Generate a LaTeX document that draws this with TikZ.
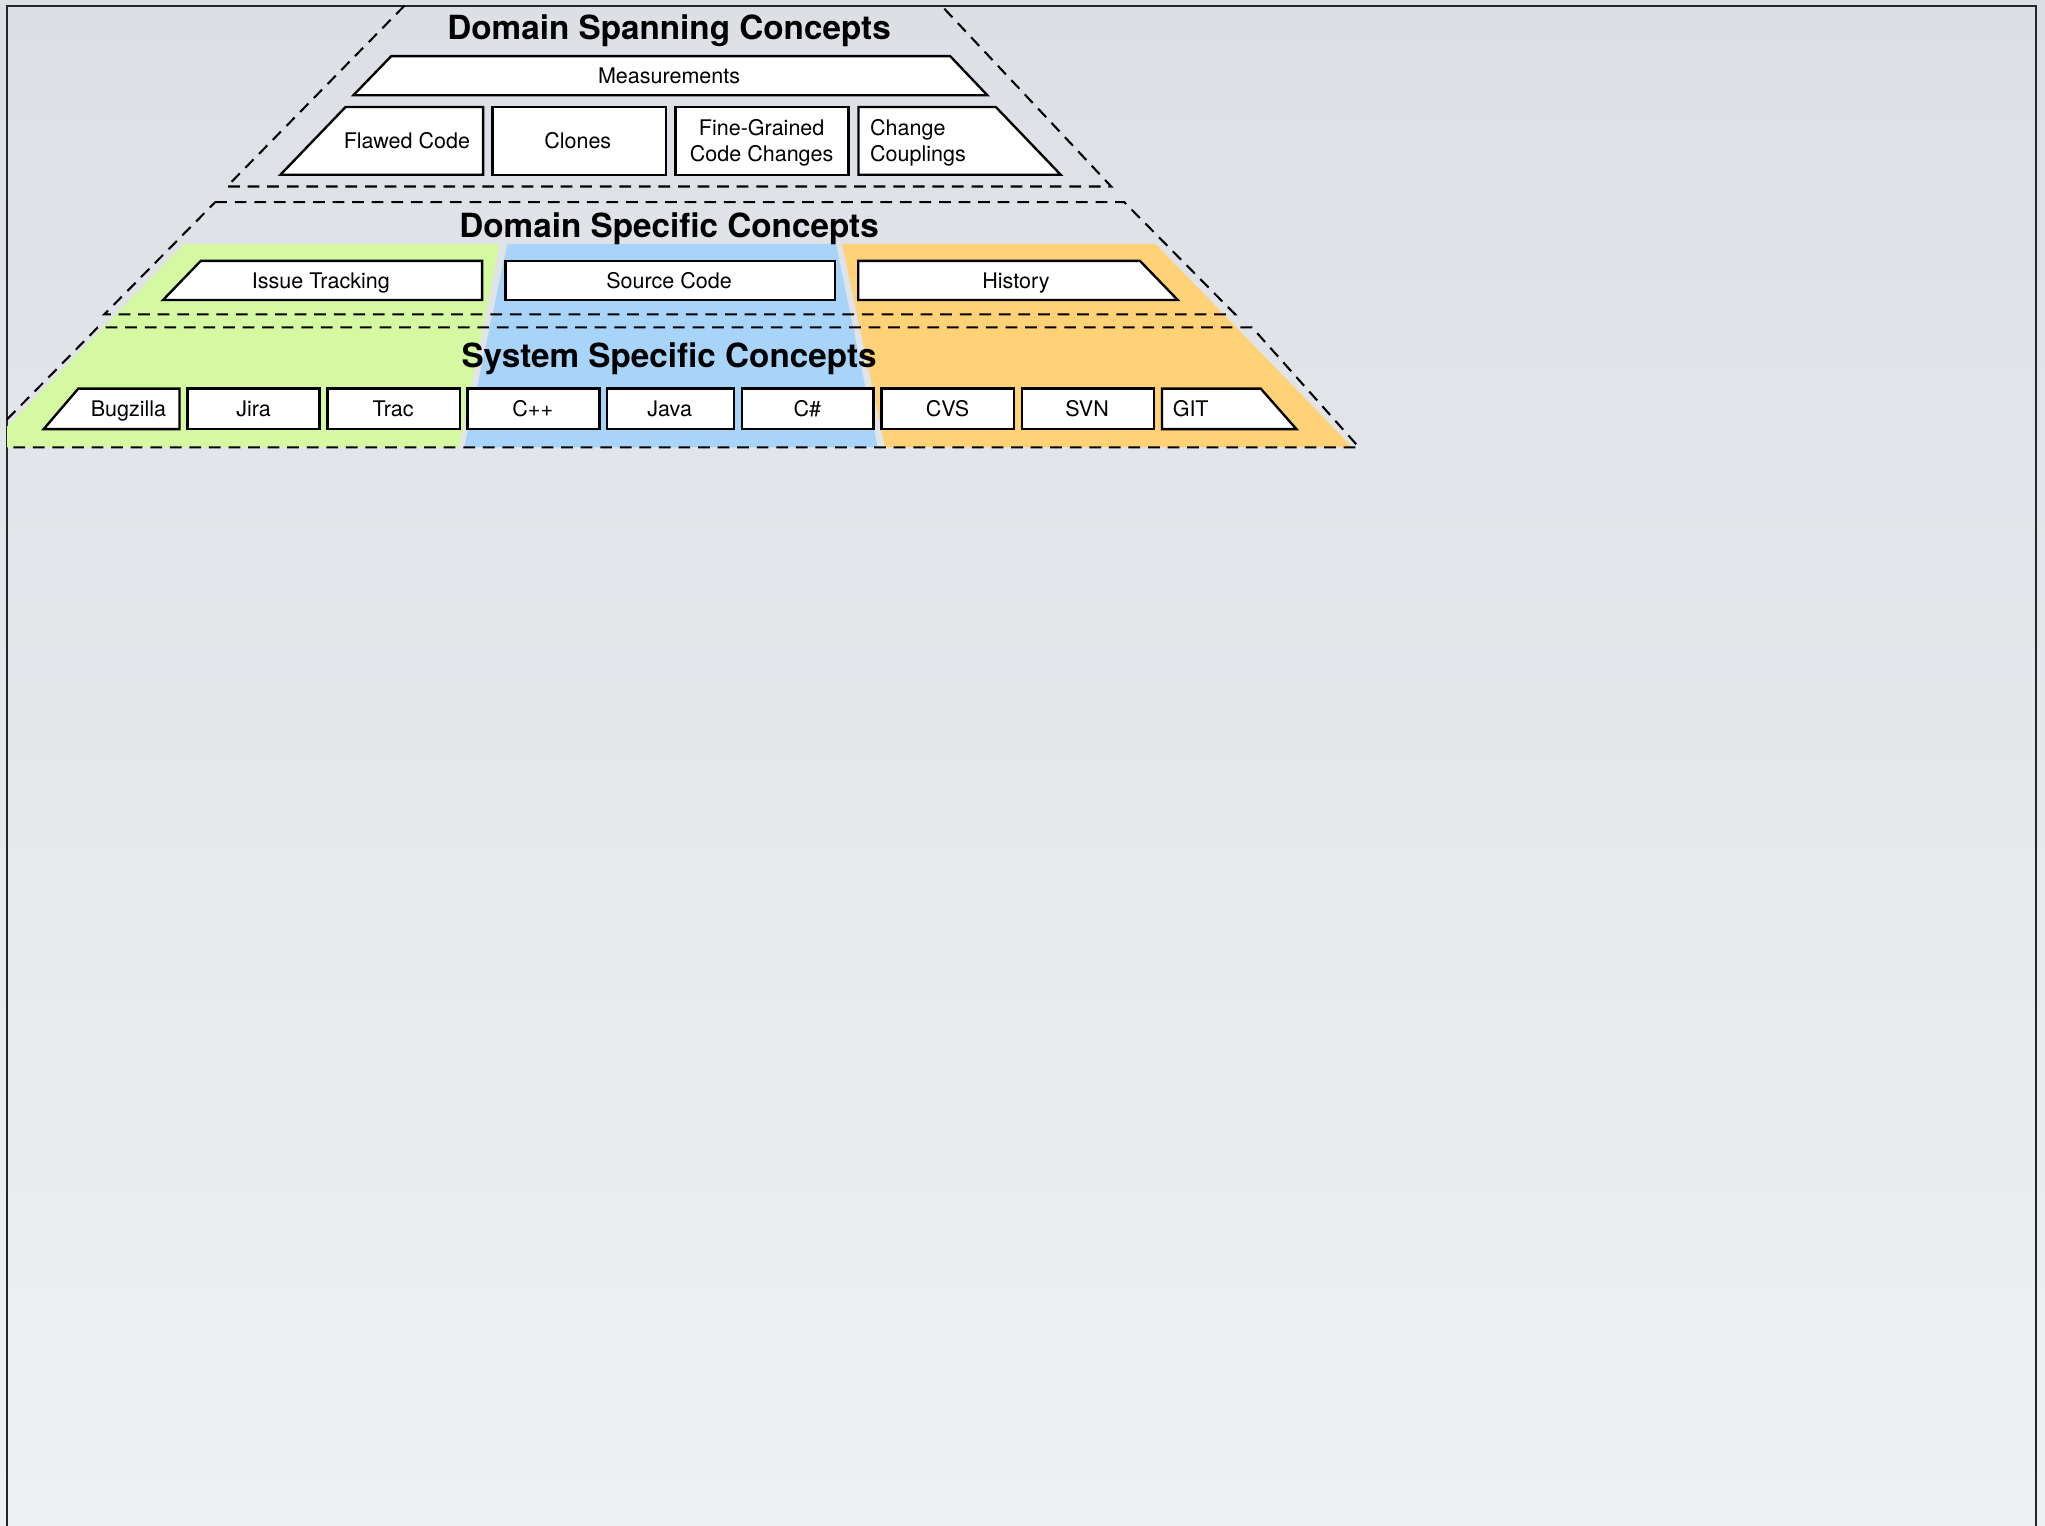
\documentclass[tikz,border=0pt]{standalone}
\usepackage{fontspec}
\setmainfont{TeX Gyre Heros}
\begin{document}
\begin{tikzpicture}[x=1pt,y=-1pt,
  box/.style={draw=black,fill=white,line width=1.8pt,line join=miter},
  tier/.style={draw=black,line width=1.6pt,dash pattern=on 9pt off 6pt},
  lbl/.style={anchor=base,inner sep=0pt,font=\fontsize{16.5}{20}\selectfont},
  ttl/.style={anchor=base,inner sep=0pt,font=\fontsize{25.5}{30}\selectfont\bfseries}]
\definecolor{bgtop}{HTML}{DCE0E5}
\definecolor{bgbot}{HTML}{EFF0F2}
\definecolor{grn}{HTML}{D4F9A2}
\definecolor{blu}{HTML}{A8D4FA}
\definecolor{org}{HTML}{FFD278}
\useasboundingbox (0,0) rectangle (1568,1169.4);
% page background
\shade[top color=bgtop,bottom color=bgbot] (0,0) rectangle (1568,1169.4);
% slide frame
\draw[line width=1.3pt,black!85] (5.5,1170) -- (5.5,4.5) -- (1561,4.5) -- (1561,1170);

% coloured columns behind the lower tiers
\fill[grn] (141,187) -- (383,187) -- (352,343) -- (5.5,343) -- (5.5,327) -- cycle;
\fill[blu] (389,187) -- (641,187) -- (673,343) -- (356,343) -- cycle;
\fill[org] (645.6,187) -- (886,187) -- (1037,343) -- (678.6,343) -- cycle;

% ---------- Domain spanning concepts ----------
\draw[tier] (310,4.5) -- (174,143) -- (852,143) -- (722,4.5);
\node[ttl] (dspan) at (513,30) {Domain Spanning Concepts};
\draw[box] (300,43) -- (728.5,43) -- (757,73) -- (271,73) -- cycle;
\node[lbl] (meas) at (513,64) {Measurements};
\draw[box] (265,82) -- (370.4,82) -- (370.4,134) -- (215,134) -- cycle;
\node[lbl] (flawed) at (312,114) {Flawed Code};
\draw[box] (377.6,82) rectangle (510.6,134);
\node[lbl] (clones) at (443,114) {Clones};
\draw[box] (517.8,82) rectangle (650.6,134);
\node[lbl,align=center] (fgcc) at (584,124) {Fine-Grained\\Code Changes};
\draw[box] (658.3,82) -- (763.5,82) -- (813.3,134) -- (658.3,134) -- cycle;
\node[lbl,anchor=base west,align=left] (coupl) at (667,124) {Change\\Couplings};

% ---------- Domain specific concepts ----------
\draw[tier] (165,155) -- (862,155) -- (947,241) -- (80,241) -- cycle;
\node[ttl] (dspec) at (513,182) {Domain Specific Concepts};
\draw[box] (154,200) -- (369.7,200) -- (369.7,230) -- (125,230) -- cycle;
\node[lbl] (issue) at (246,221) {Issue Tracking};
\draw[box] (387.5,200) rectangle (640,230);
\node[lbl] (src) at (513,221) {Source Code};
\draw[box] (658,200) -- (874,200) -- (903,230) -- (658,230) -- cycle;
\node[lbl] (hist) at (779,221) {History};

% ---------- System specific concepts ----------
\draw[tier] (5.5,321.5) -- (75,251) -- (960,251) -- (1042,343) -- (5.5,343);
\node[ttl] (sspec) at (513,282) {System Specific Concepts};
\draw[box] (60,298) -- (137.6,298) -- (137.6,329) -- (33.5,329) -- cycle;
\node[lbl] (bugzilla) at (98.5,319) {Bugzilla};
\draw[box] (143.8,298) rectangle (245,329);
\node[lbl] (jira) at (194.4,319) {Jira};
\draw[box] (251,298) rectangle (352.6,329);
\node[lbl] (trac) at (301.5,319) {Trac};
\draw[box] (358.4,298) rectangle (459.7,329);
\node[lbl] (cpp) at (408.5,319) {C++};
\draw[box] (465.6,298) rectangle (563,329);
\node[lbl] (java) at (513.5,319) {Java};
\draw[box] (568.8,298) rectangle (669.8,329);
\node[lbl] (csharp) at (619,319) {C\#};
\draw[box] (676,298) rectangle (777.5,329);
\node[lbl] (cvs) at (726.5,319) {CVS};
\draw[box] (783.6,298) rectangle (884.6,329);
\node[lbl] (svn) at (833.5,319) {SVN};
\draw[box] (891,298) -- (966.7,298) -- (994,329) -- (891,329) -- cycle;
\node[lbl,anchor=base west] (git) at (899,319) {GIT};
\end{tikzpicture}
\end{document}
